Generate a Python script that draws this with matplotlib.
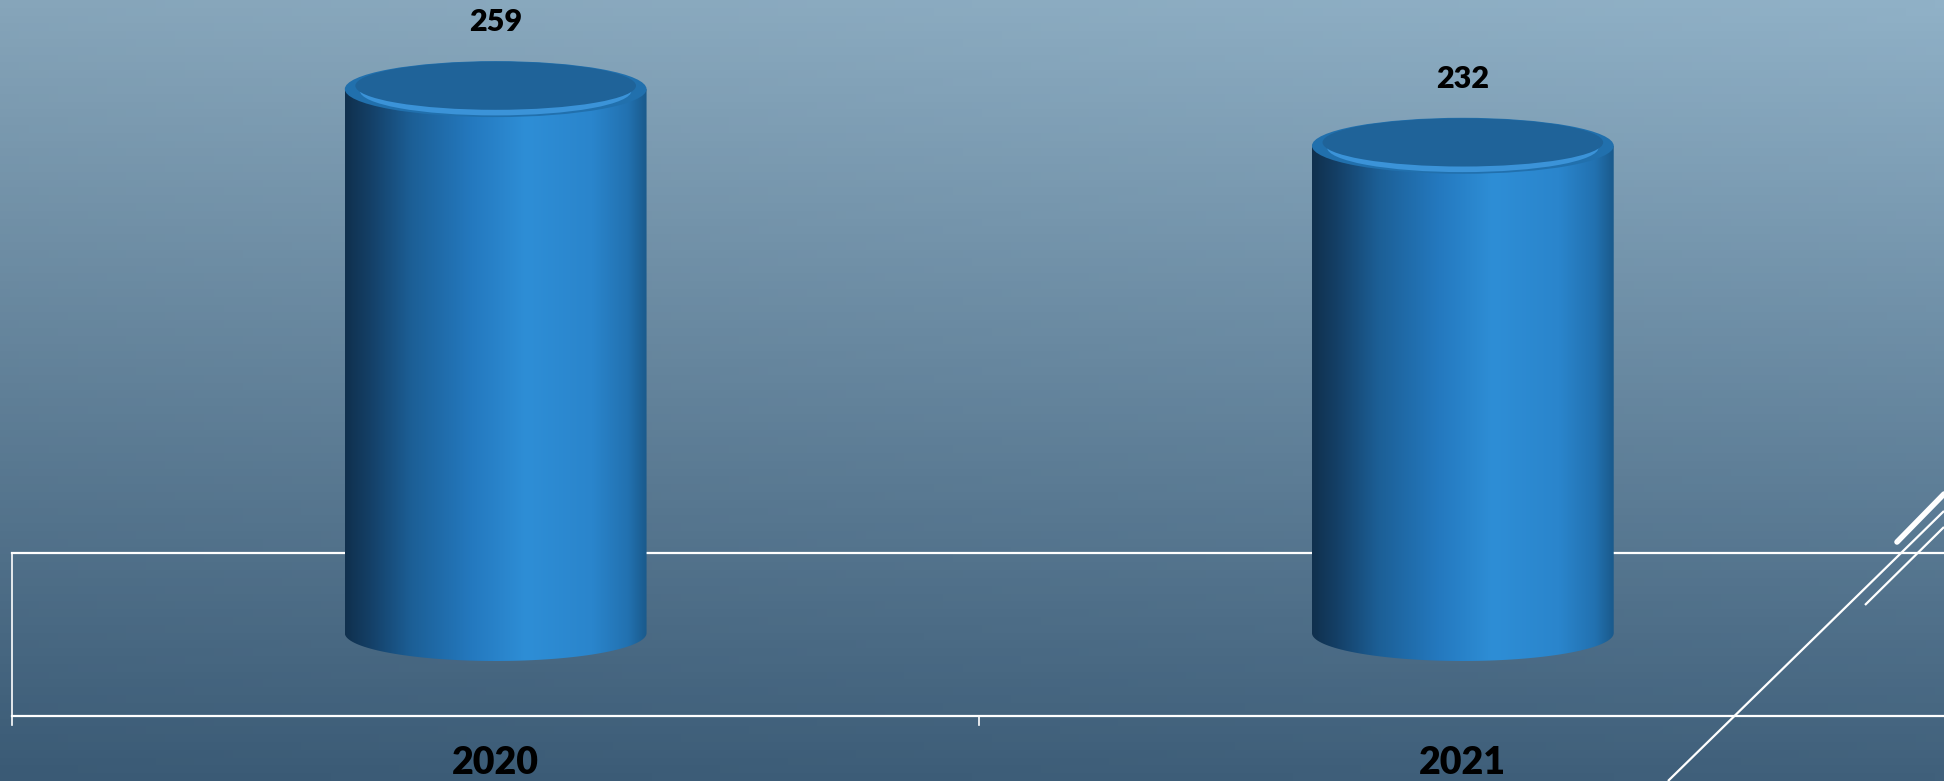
import numpy as np
import matplotlib
matplotlib.use("Agg")
import matplotlib.pyplot as plt
from matplotlib.patches import Ellipse, Polygon
from matplotlib.lines import Line2D
from matplotlib.colors import LinearSegmentedColormap

# data
years = ["2020", "2021"]
counts = [259, 232]

W, H = 1944, 781
fig = plt.figure(figsize=(W / 100, H / 100), dpi=100)

# background gradient (slide)
bg = fig.add_axes([0, 0, 1, 1], zorder=0)
bg.axis("off")
tl = np.array([0x86, 0xa5, 0xba]) / 255
tr = np.array([0x90, 0xb1, 0xc7]) / 255
bl = np.array([0x3a, 0x5a, 0x75]) / 255
br = np.array([0x40, 0x60, 0x7b]) / 255
u = np.linspace(0, 1, 200)[None, :, None]
v = np.linspace(0, 1, 100)[:, None, None]
top = tl * (1 - u) + tr * u
bot = bl * (1 - u) + br * u
img = top * (1 - v) + bot * v
bg.imshow(img, aspect="auto", extent=[0, 1, 0, 1], origin="upper")
bg.set_xlim(0, 1)
bg.set_ylim(0, 1)

# chart axes
ax = fig.add_axes([0, 0, 1, 1], zorder=1)
ax.patch.set_alpha(0)
ax.axis("off")
px_per_unit = 2.1
base_px = H - 633
ax.set_ylim(-base_px / px_per_unit, (H - base_px) / px_per_unit)
ax.set_xlim(-0.5125, 1.4975)

bar_w = 0.312
ell_h = 2 * 28 / px_per_unit

# floor frame
floor_back, floor_front = 38, -39.5
lc = "white"
ax.plot([-0.5, 1.5], [floor_back, floor_back], color=lc, lw=1.6, zorder=2)
ax.plot([-0.5, 1.5], [floor_front, floor_front], color=lc, lw=1.6, zorder=2)
ax.plot([-0.5, -0.5], [floor_back, floor_front - 4.5], color=lc, lw=1.2, zorder=2)
ax.plot([0.5, 0.5], [floor_front, floor_front - 4.5], color=lc, lw=1.2, zorder=2)

body_cmap = LinearSegmentedColormap.from_list("cyl", [
    (0.0, "#10304d"), (0.08, "#143f66"), (0.22, "#1c5f96"),
    (0.42, "#2479bf"), (0.6, "#2e8ed6"), (0.82, "#2a85cc"),
    (0.94, "#2271b0"), (1.0, "#1a5a8c")])
grad = np.linspace(0, 1, 256)[None, :]

for i, val in enumerate(counts):
    a = bar_w / 2
    b = ell_h / 2
    t = np.linspace(np.pi, 2 * np.pi, 80)
    pts = [(i - a, val), (i - a, 0)]
    pts += list(zip(i + a * np.cos(t), b * np.sin(t)))
    pts += [(i + a, 0), (i + a, val)]
    body = Polygon(pts, closed=True, facecolor="none", edgecolor="none")
    ax.add_patch(body)
    im = ax.imshow(grad, cmap=body_cmap, aspect="auto",
                   extent=[i - a, i + a, -b, val], zorder=3)
    im.set_clip_path(body)
    # top cap: rounded bevel, lighter at the front edge
    ax.add_patch(Ellipse((i, val), 2 * a, 2 * b, facecolor="#2170ad",
                         edgecolor="none", zorder=4))
    ax.add_patch(Ellipse((i, val - 0.8), 2 * a * 0.9, 2 * b * 0.88,
                         facecolor="#3b93d8", edgecolor="none", zorder=4))
    ax.add_patch(Ellipse((i, val + 1.6), 2 * a * 0.93, 2 * b * 0.86,
                         facecolor="#1f6399", edgecolor="none", zorder=5))
    ax.annotate(str(val), (i, val), xytext=(0, 48), textcoords="offset points",
                ha="center", va="center", fontsize=22, fontweight="heavy",
                family="Lato", color="black", zorder=6)
    ax.text(i, -62, years[i], ha="center", va="center", fontsize=27,
            fontweight="heavy", family="Lato", color="black", zorder=6)

# slide decoration lines
def fl(x0, y0, x1, y1, lw, cap="butt"):
    fig.add_artist(Line2D([x0 / W, x1 / W], [1 - y0 / H, 1 - y1 / H],
                          color="white", lw=lw, solid_capstyle=cap, zorder=3))

fl(1668, 781, 1944, 511, 1.6)
fl(1865, 605, 1944, 527, 1.6)
fl(1897, 542, 1944, 494, 4.0, "round")

fig.savefig("out.png", dpi=100)
